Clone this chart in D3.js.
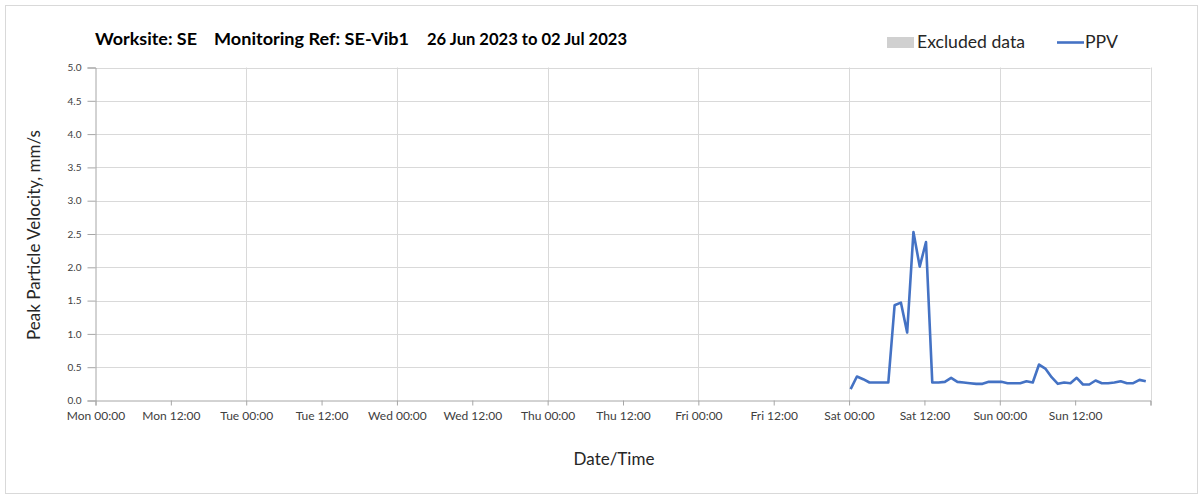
<!DOCTYPE html>
<html><head><meta charset="utf-8">
<script src="https://cdn.jsdelivr.net/npm/d3@7"></script>
<style>
body{margin:0;background:#fff;}
text{font-family:Lato,"Open Sans",sans-serif;}
</style></head>
<body><svg id="c" width="1203" height="495"></svg>
<script>
const titleParts = ["Worksite: SE", "Monitoring Ref: SE-Vib1", "26 Jun 2023 to 02 Jul 2023"];
const yLabel = "Peak Particle Velocity, mm/s";
const xLabel = "Date/Time";
const legendLabels = ["Excluded data", "PPV"];
const xStart = "2023-06-26 00:00", xEnd = "2023-07-03 00:00";
const yTicks = [0, 0.5, 1.0, 1.5, 2.0, 2.5, 3.0, 3.5, 4.0, 4.5, 5.0];
const xTickTimes = ["2023-06-26 00:00","2023-06-26 12:00","2023-06-27 00:00","2023-06-27 12:00","2023-06-28 00:00","2023-06-28 12:00","2023-06-29 00:00","2023-06-29 12:00","2023-06-30 00:00","2023-06-30 12:00","2023-07-01 00:00","2023-07-01 12:00","2023-07-02 00:00","2023-07-02 12:00"];
const xTickLabels = ["Mon 00:00","Mon 12:00","Tue 00:00","Tue 12:00","Wed 00:00","Wed 12:00","Thu 00:00","Thu 12:00","Fri 00:00","Fri 12:00","Sat 00:00","Sat 12:00","Sun 00:00","Sun 12:00"];
const times = ["2023-07-01 00:15","2023-07-01 01:15","2023-07-01 02:15","2023-07-01 03:15","2023-07-01 04:15","2023-07-01 05:15","2023-07-01 06:15","2023-07-01 07:15","2023-07-01 08:15","2023-07-01 09:15","2023-07-01 10:15","2023-07-01 11:15","2023-07-01 12:15","2023-07-01 13:15","2023-07-01 14:15","2023-07-01 15:15","2023-07-01 16:15","2023-07-01 17:15","2023-07-01 18:15","2023-07-01 19:15","2023-07-01 20:15","2023-07-01 21:15","2023-07-01 22:15","2023-07-01 23:15",
"2023-07-02 00:15","2023-07-02 01:15","2023-07-02 02:15","2023-07-02 03:15","2023-07-02 04:15","2023-07-02 05:15","2023-07-02 06:15","2023-07-02 07:15","2023-07-02 08:15","2023-07-02 09:15","2023-07-02 10:15","2023-07-02 11:15","2023-07-02 12:15","2023-07-02 13:15","2023-07-02 14:15","2023-07-02 15:15","2023-07-02 16:15","2023-07-02 17:15","2023-07-02 18:15","2023-07-02 19:15","2023-07-02 20:15","2023-07-02 21:15","2023-07-02 22:15","2023-07-02 23:15"];
const ppv = [0.17,0.36,0.32,0.27,0.27,0.27,0.27,1.43,1.47,1.02,2.53,2.01,2.38,0.27,0.27,0.28,0.34,0.28,0.27,0.26,0.25,0.25,0.28,0.28,
0.28,0.26,0.26,0.26,0.29,0.27,0.54,0.48,0.35,0.25,0.27,0.26,0.34,0.24,0.24,0.30,0.26,0.26,0.27,0.29,0.26,0.26,0.31,0.29];

const parse = d3.timeParse("%Y-%m-%d %H:%M");
const svg = d3.select("#c");
const L = 95.5, R = 1150.5, T = 67.5, B = 400.5;
const x = d3.scaleTime().domain([parse(xStart), parse(xEnd)]).range([L, R]);
const y = d3.scaleLinear().domain([0, 5]).range([B, T]);

svg.append("rect").attr("x",5.5).attr("y",5.5).attr("width",1192).attr("height",488)
  .attr("fill","#fff").attr("stroke","#d9d9d9");

svg.append("g").selectAll("line").data(yTicks.slice(1)).join("line")
  .attr("x1",L).attr("x2",R).attr("y1",d=>Math.round(y(d))+0.5).attr("y2",d=>Math.round(y(d))+0.5)
  .attr("stroke","#d9d9d9");
const dayTimes = xTickTimes.filter((d,i)=>i%2===0).slice(1).concat([xEnd]);
svg.append("g").selectAll("line").data(dayTimes).join("line")
  .attr("x1",d=>Math.round(x(parse(d)))+0.5).attr("x2",d=>Math.round(x(parse(d)))+0.5)
  .attr("y1",T).attr("y2",B).attr("stroke","#d9d9d9");

const ya = svg.append("g").attr("transform",`translate(${L},0)`)
  .call(d3.axisLeft(y).tickValues(yTicks).tickFormat(d3.format(".1f")).tickSize(8).tickPadding(6));
ya.select(".domain").attr("stroke","#a6a6a6");
ya.selectAll(".tick line").attr("stroke","#a6a6a6");
ya.selectAll(".tick text").attr("fill","#404040").style("font-size","10px").style("font-family","Lato");

const xa = svg.append("g").attr("transform",`translate(0,${B})`)
  .call(d3.axisBottom(x).tickValues(xTickTimes.map(parse).concat([parse(xEnd)]))
    .tickFormat((d,i)=>xTickLabels[i]||"").tickSize(5).tickPadding(6));
xa.select(".domain").attr("stroke","#a6a6a6");
xa.selectAll(".tick line").attr("stroke","#a6a6a6");
xa.selectAll(".tick text").attr("fill","#404040").style("font-size","12px").style("font-family","Lato");

const line = d3.line().x((d,i)=>x(parse(times[i]))).y(d=>y(d));
svg.append("path").datum(ppv).attr("d",line).attr("fill","none")
  .attr("stroke","#4472C4").attr("stroke-width",2.6).attr("stroke-linejoin","round");

const tx = [95, 214, 427], tw = [102, 195, 200];
svg.append("g").selectAll("text").data(titleParts).join("text")
  .attr("x",(d,i)=>tx[i]).attr("y",45).attr("font-weight","bold").attr("font-size","17px")
  .attr("textLength",(d,i)=>tw[i]).attr("lengthAdjust","spacingAndGlyphs")
  .attr("fill","#000").text(d=>d);

svg.append("rect").attr("x",887).attr("y",37).attr("width",27).attr("height",11).attr("fill","#d0d0d0");
svg.append("text").attr("x",917).attr("y",48).attr("font-size","17px").attr("fill","#262626")
  .attr("textLength",108).attr("lengthAdjust","spacingAndGlyphs").text(legendLabels[0]);
svg.append("line").attr("x1",1057).attr("x2",1084).attr("y1",42.5).attr("y2",42.5).attr("stroke","#4472C4").attr("stroke-width",2.6);
svg.append("text").attr("x",1085).attr("y",48).attr("font-size","17px").attr("fill","#262626")
  .attr("textLength",33).attr("lengthAdjust","spacingAndGlyphs").text(legendLabels[1]);

svg.append("text").attr("transform","translate(40,235) rotate(-90)").attr("text-anchor","middle")
  .attr("font-size","17px").attr("fill","#262626").text(yLabel);
svg.append("text").attr("x",614).attr("y",465).attr("text-anchor","middle")
  .attr("font-size","17px").attr("fill","#262626").text(xLabel);
</script></body></html>
